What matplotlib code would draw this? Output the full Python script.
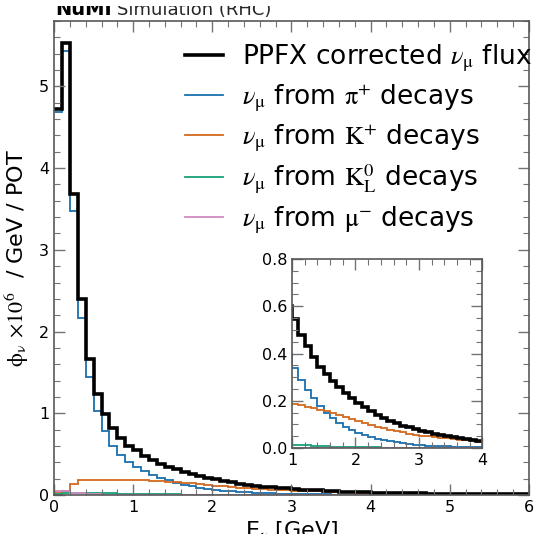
import numpy as np
import matplotlib
matplotlib.use("Agg")
import matplotlib.pyplot as plt
from matplotlib.ticker import MultipleLocator
from matplotlib.lines import Line2D
from matplotlib.transforms import Bbox

plt.rcParams["mathtext.fontset"] = "stix"

# Energy binning: 0.1 GeV bins from 0 to 6 GeV
bin_edges = np.round(np.arange(0.0, 6.0001, 0.1), 2)

# Flux per bin (x10^6 / GeV / POT)
total_flux = [
    4.72, 5.53, 3.68, 2.40, 1.66, 1.24, 0.99, 0.825, 0.70, 0.60,
    0.545, 0.48, 0.43, 0.385, 0.345, 0.315, 0.283, 0.258, 0.232, 0.21,
    0.19, 0.172, 0.155, 0.14, 0.127, 0.115, 0.104, 0.095, 0.088, 0.08,
    0.072, 0.066, 0.061, 0.056, 0.051, 0.047, 0.043, 0.039, 0.035, 0.031,
    0.029, 0.027, 0.025, 0.023, 0.021, 0.020, 0.019, 0.017, 0.016, 0.015,
    0.014, 0.013, 0.012, 0.011, 0.011, 0.010, 0.009, 0.009, 0.008, 0.008,
]
pion_flux = [
    4.69, 5.43, 3.48, 2.16, 1.44, 1.03, 0.78, 0.60, 0.49, 0.40,
    0.34, 0.29, 0.245, 0.21, 0.178, 0.15, 0.127, 0.107, 0.09, 0.076,
    0.064, 0.054, 0.046, 0.039, 0.033, 0.028, 0.024, 0.020, 0.017, 0.014,
    0.012, 0.010, 0.009, 0.008, 0.007, 0.006, 0.005, 0.005, 0.004, 0.004,
    0.003, 0.003, 0.003, 0.003, 0.002, 0.002, 0.002, 0.002, 0.002, 0.002,
    0.002, 0.001, 0.001, 0.001, 0.001, 0.001, 0.001, 0.001, 0.001, 0.001,
]
kaon_flux = [
    0.04, 0.05, 0.13, 0.185, 0.18, 0.18, 0.178, 0.18, 0.183, 0.185,
    0.186, 0.181, 0.175, 0.169, 0.163, 0.157, 0.149, 0.141, 0.133, 0.124,
    0.115, 0.107, 0.099, 0.091, 0.084, 0.077, 0.071, 0.066, 0.061, 0.057,
    0.053, 0.050, 0.047, 0.044, 0.041, 0.038, 0.035, 0.032, 0.029, 0.027,
    0.025, 0.023, 0.022, 0.020, 0.019, 0.018, 0.017, 0.015, 0.014, 0.013,
    0.012, 0.012, 0.011, 0.010, 0.010, 0.009, 0.009, 0.008, 0.008, 0.007,
]
k0l_flux = [
    0.010, 0.020, 0.025, 0.025, 0.024, 0.022, 0.020, 0.019, 0.017, 0.015,
    0.013, 0.012, 0.011, 0.009, 0.008, 0.007, 0.006, 0.005, 0.005, 0.004,
    0.004, 0.003, 0.003, 0.003, 0.002, 0.002, 0.002, 0.002, 0.001, 0.001,
    0.001, 0.001, 0.001, 0.001, 0.001, 0.001, 0.001, 0.001, 0.001, 0.001,
    0.001, 0.001, 0.001, 0.001, 0.001, 0.001, 0.001, 0.001, 0.001, 0.001,
    0.0, 0.0, 0.0, 0.0, 0.0, 0.0, 0.0, 0.0, 0.0, 0.0,
]
muon_flux = [
    0.050, 0.045, 0.030, 0.020, 0.012, 0.008, 0.005, 0.004, 0.003, 0.002,
    0.002, 0.001, 0.001, 0.001, 0.001, 0.001, 0.001, 0.001, 0.001, 0.001,
    0.0, 0.0, 0.0, 0.0, 0.0, 0.0, 0.0, 0.0, 0.0, 0.0,
    0.0, 0.0, 0.0, 0.0, 0.0, 0.0, 0.0, 0.0, 0.0, 0.0,
    0.0, 0.0, 0.0, 0.0, 0.0, 0.0, 0.0, 0.0, 0.0, 0.0,
    0.0, 0.0, 0.0, 0.0, 0.0, 0.0, 0.0, 0.0, 0.0, 0.0,
]

series = [
    (total_flux, "black", 2.6, r"PPFX corrected $\nu_{\mathrm{\mu}}$ flux"),
    (pion_flux, "#1a6fae", 1.3, r"$\nu_{\mathrm{\mu}}$ from $\mathrm{\pi^{+}}$ decays"),
    (kaon_flux, "#d2691e", 1.3, r"$\nu_{\mathrm{\mu}}$ from $\mathrm{K^{+}}$ decays"),
    (k0l_flux, "#17a07a", 1.3, r"$\nu_{\mathrm{\mu}}$ from $\mathrm{K^{0}_{L}}$ decays"),
    (muon_flux, "#d08ac0", 1.3, r"$\nu_{\mathrm{\mu}}$ from $\mathrm{\mu^{-}}$ decays"),
]

spine_col = "0.35"
tick_col = "0.45"


def style_axes(ax, xmaj, xmin, ymaj, ymin, fs):
    ax.xaxis.set_major_locator(MultipleLocator(xmaj))
    ax.xaxis.set_minor_locator(MultipleLocator(xmin))
    ax.yaxis.set_major_locator(MultipleLocator(ymaj))
    ax.yaxis.set_minor_locator(MultipleLocator(ymin))
    ax.tick_params(which="both", direction="in", top=True, right=True,
                   color=tick_col, labelsize=fs, labelcolor="black")
    ax.tick_params(which="major", length=8, width=1.0)
    ax.tick_params(which="minor", length=4, width=0.8)
    for sp in ax.spines.values():
        sp.set_color(spine_col)
        sp.set_linewidth(1.2)


fig = plt.figure(figsize=(5.37, 5.34), dpi=100)
ax = fig.add_axes([0.1006, 0.073, 0.8844, 0.8877])

# components first, total on top
order = [1, 2, 3, 4, 0]
for i in order:
    vals, col, lw, lab = series[i]
    ax.stairs(vals, bin_edges, color=col, linewidth=lw, baseline=None)
ax.set_xlim(0, 6)
ax.set_ylim(0, 5.8)
style_axes(ax, 1, 0.2, 1, 0.2, 11.5)

ax.set_xlabel(r"E$_{\nu}$ [GeV]", fontsize=16, labelpad=3)
ax.set_ylabel(r"$\mathrm{\phi_{\nu}}$ $\times 10^{6}$  / GeV / POT", fontsize=16, labelpad=6)

leg_handles = [Line2D([], [], color=series[i][1], lw=series[i][2]) for i in range(5)]
leg_labels = [series[i][3] for i in range(5)]
ax.legend(leg_handles, leg_labels, loc="upper right", frameon=False,
          fontsize=19, handlelength=1.45, handletextpad=0.7, labelspacing=0.33,
          borderaxespad=0.0, borderpad=0.0, bbox_to_anchor=(1.006, 0.955))

# zoomed inset for the 1-4 GeV tail
axin = fig.add_axes([0.544, 0.161, 0.354, 0.354])
for i in order:
    vals, col, lw, lab = series[i]
    axin.stairs(vals, bin_edges, color=col, linewidth=lw, baseline=None)
axin.set_xlim(1, 4)
axin.set_ylim(0, 0.8)
style_axes(axin, 1, 0.2, 0.2, 0.05, 11.5)

# experiment tag above the frame, its upper part cut by the page edge
clip = Bbox.from_extents(0, 0, 537, 534 - 6)
t1 = fig.text(0.102, 1 - 15 / 534, "NuMI", fontsize=14, fontweight="bold", va="baseline")
t2 = fig.text(0.218, 1 - 15 / 534, "Simulation (RHC)", fontsize=13, va="baseline", color="0.15")
for t in (t1, t2):
    t.set_clip_box(clip)
    t.set_clip_on(True)

fig.savefig("out.png", dpi=100)
